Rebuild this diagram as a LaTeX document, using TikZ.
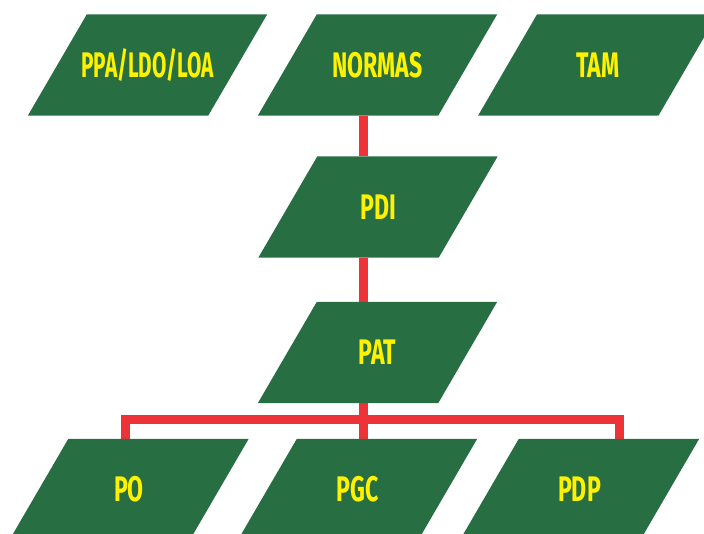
\documentclass[tikz,border=0pt]{standalone}
\usepackage{fontspec}
\newfontfamily\lblfont{Fira Sans}[FakeStretch=0.65]
\newfontfamily\lblnarrow{Fira Sans}[FakeStretch=0.585]
\usetikzlibrary{backgrounds}
\definecolor{boxgreen}{HTML}{286E43}
\definecolor{lblyellow}{HTML}{FFF200}
\definecolor{linkred}{HTML}{EE3338}
\tikzset{
  box/.style={rectangle, inner sep=0pt, minimum width=180pt, minimum height=101pt,
    text=lblyellow, font=\lblfont\bfseries\fontsize{35.5}{35.5}\selectfont},
  narrowtext/.style={font=\lblnarrow\bfseries\fontsize{35.5}{35.5}\selectfont},
  link/.style={draw=linkred, line width=8.5pt, line join=miter}
}
\begin{document}
\begin{tikzpicture}[x=1pt,y=-1pt]
  \useasboundingbox (0,0) rectangle (704,533);
  \clip (0,0) rectangle (704,533);

  % boxes
  \node[box,narrowtext] (ppa) at (147.5,65) {PPA/LDO/LOA};
  \node[box] (normas) at (377.5,65) {NORMAS};
  \node[box] (tam)    at (597.75,65) {TAM};
  \node[box] (pdi)    at (378,207) {PDI};
  \node[box] (pat)    at (377.5,352.5) {PAT};
  \node[box] (po)     at (129,489.5) {PO};
  \node[box] (pgc)    at (357.5,489.5) {PGC};
  \node[box] (pdp)    at (579.5,489.5) {PDP};

  % connector guide points
  \coordinate (spine) at (363.5,0);
  \coordinate (busL)  at (125.5,419.5);
  \coordinate (busR)  at (619.5,419.5);

  \begin{pgfonlayer}{background}
    \draw[link] (spine |- normas.south) -- (spine |- pdi.north);
    \draw[link] (spine |- pdi.south) -- (spine |- pat.north);
    \draw[link] (spine |- pat.south) -- (spine |- pgc.north);
    \draw[link] (busL |- po.north) -- (busL) -- (busR) -- (busR |- pdp.north);
    \foreach \n in {ppa,normas,tam,pdi,pat,po,pgc,pdp}
      \fill[boxgreen] ([xshift=29.5pt]\n.north west) -- ([xshift=29.5pt]\n.north east)
        -- ([xshift=-29.5pt]\n.south east) -- ([xshift=-29.5pt]\n.south west) -- cycle;
  \end{pgfonlayer}
\end{tikzpicture}
\end{document}
